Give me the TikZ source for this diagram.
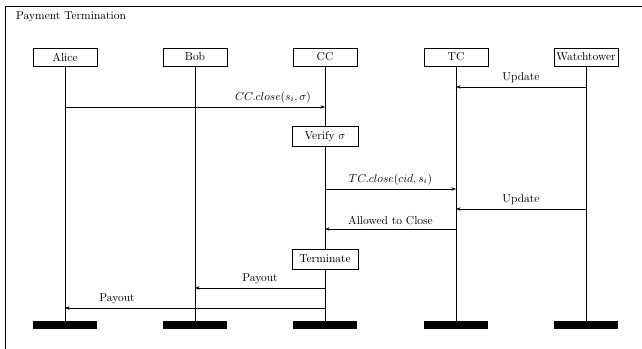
\documentclass[tikz,border=0pt]{standalone}
\usepackage{amsmath}
\usepackage{amssymb}
\usetikzlibrary{arrows.meta}

\tikzset{
  actor/.style={draw, fill=white, minimum width=55.5pt, minimum height=15.6pt, inner sep=1.5pt},
  actbox/.style={actor, minimum width=57.5pt, minimum height=17pt},
  endbar/.style={fill=black, minimum width=55.5pt, minimum height=7pt, inner sep=0pt},
  msg/.style={-{Stealth[length=4pt,width=3pt]}},
}

\begin{document}
\begin{tikzpicture}[x=0.87pt,y=-0.87pt]
        \useasboundingbox (0,0) rectangle (642,349);
        \draw (5,349) -- (5,6) -- (642,6);
        \node[anchor=base west, inner sep=0pt] (title) at (16,20) {Payment Termination};

        % lifelines
        \foreach \name/\txt/\x in {alice/Alice/65, bob/Bob/195, cc/CC/325, tc/TC/456, watch/Watchtower/586} {
            \node[actor] (\name) at (\x,57) {\txt};
            \node[endbar] (\name-end) at (\x,325) {};
            \draw (\name) -- (\name-end);
        }

        % rows of the messages
        \foreach \row/\y in {upd1/87, ccclose/107, tcclose/189, upd2/209, allowed/229, payb/288, paya/308}
            \coordinate (\row) at (0,\y);

        \draw[msg] (watch |- upd1) -- node[above] (updlbl1) {Update} (tc |- upd1);
        \draw[msg] (alice |- ccclose) -- node[above, pos=0.8] (ccclbl) {$CC.close(s_i,\sigma)$} (cc |- ccclose);
        \node[actbox] (verify) at (cc |- 0,136.5) {Verify $\sigma$};
        \draw[msg] (cc |- tcclose) -- node[above] (tcclbl) {$TC.close(cid,s_i)$} (tc |- tcclose);
        \draw[msg] (watch |- upd2) -- node[above] (updlbl2) {Update} (tc |- upd2);
        \draw[msg] (tc |- allowed) -- node[above] (allowlbl) {Allowed to Close} (cc |- allowed);
        \node[actbox] (term) at (cc |- 0,259) {Terminate};
        \draw[msg] (cc |- payb) -- node[above] (paylbl1) {Payout} (bob |- payb);
        \draw[msg] (cc |- paya) -- node[above, pos=0.8] (paylbl2) {Payout} (alice |- paya);
    \end{tikzpicture}
\end{document}
